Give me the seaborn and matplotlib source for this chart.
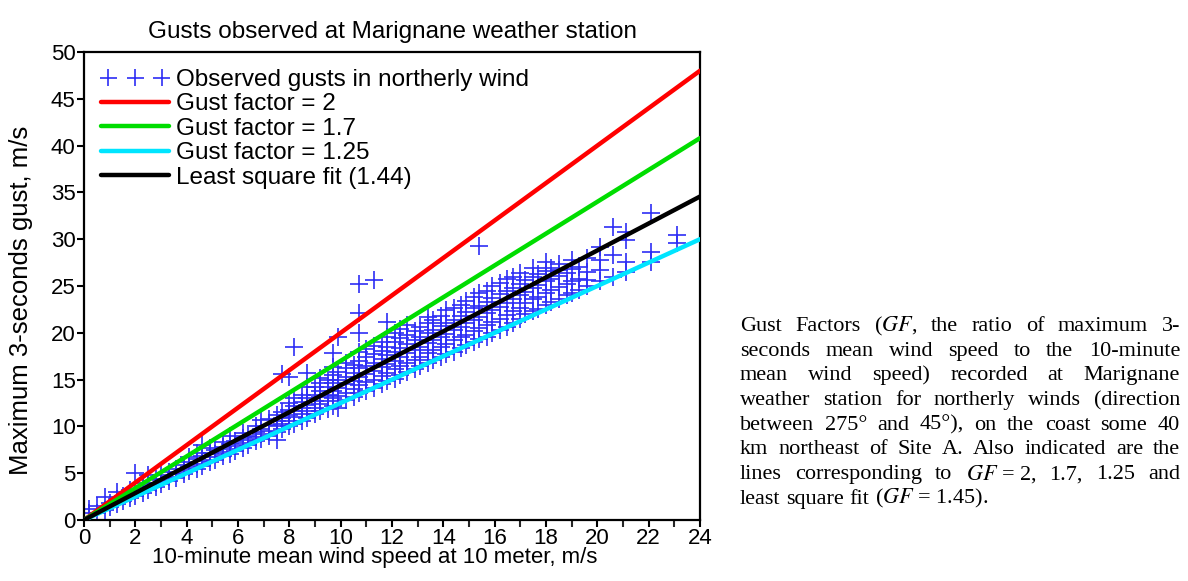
import matplotlib
matplotlib.use("Agg")
import matplotlib.pyplot as plt
import seaborn as sns
import numpy as np
from matplotlib.ticker import MultipleLocator

# ---------------- data ----------------
gust_cols = {
    0.2: [0.8, 1.2],
    0.5: [0.8, 1.5],
    0.8: [1.1, 2.5],
    1.0: [1.4, 1.8],
    1.3: [1.7, 2.2, 3.0],
    1.5: [2.0, 2.6],
    1.8: [2.3, 2.8, 3.2],
    2.0: [2.6, 3.1, 5.0],
    2.3: [2.9, 3.4, 3.9],
    2.5: [3.2, 3.7, 4.8],
    2.8: [3.5, 4.0, 4.4],
    3.0: [3.8, 4.3, 4.8],
    3.3: [4.2, 4.6, 5.1],
    3.6: [4.5, 5.0, 5.5],
    3.9: [4.9, 5.4, 5.9],
    4.1: [5.2, 5.7, 6.2, 6.7],
    4.4: [5.5, 6.0, 6.5, 7.2],
    4.6: [5.8, 6.3, 6.8, 8.0],
    4.9: [6.2, 6.7, 7.2, 7.7],
    5.1: [6.4, 7.0, 7.5],
    5.4: [6.8, 7.3, 7.8, 8.3],
    5.7: [7.1, 7.6, 8.1, 9.0],
    5.9: [7.4, 7.9, 8.4],
    6.2: [7.7, 8.2, 8.8, 9.3],
    6.4: [8.0, 8.5, 9.0],
    6.7: [8.4, 8.9, 9.4, 10.0],
    6.9: [8.7, 9.2, 9.7, 10.7],
    7.2: [9.0, 9.5, 10.2, 10.8],
    7.5: [8.5, 9.4, 10.0, 10.6, 11.2],
    7.7: [9.7, 10.3, 10.9, 11.5, 15.6],
    8.0: [10.0, 10.6, 11.2, 11.8, 12.5, 15.3],
    8.2: [10.3, 11.0, 11.6, 12.2, 13.0, 18.5],
    8.5: [10.6, 11.3, 12.0, 12.6, 13.4],
    8.7: [10.9, 11.6, 12.3, 13.0, 14.2, 15.7],
    9.0: [11.3, 12.0, 12.7, 13.4, 14.2],
    9.2: [11.6, 12.4, 13.1, 13.8, 14.6, 15.2],
    9.5: [11.9, 12.7, 13.4, 14.2, 15.0],
    9.7: [12.2, 13.0, 13.8, 14.6, 15.5, 16.3, 17.8],
    9.9: [12.0, 13.3, 14.1, 15.0, 15.8, 19.6],
    10.2: [12.8, 13.6, 14.5, 15.3, 16.2, 16.8],
    10.5: [13.1, 14.0, 14.9, 15.7, 16.6],
    10.7: [13.6, 14.4, 15.3, 16.2, 17.0, 18.0, 20.0, 22.1, 25.2],
    11.0: [13.8, 14.7, 15.6, 16.5, 17.4, 18.3],
    11.3: [14.1, 15.0, 15.9, 16.8, 17.7, 18.6, 25.6],
    11.6: [14.5, 15.4, 16.3, 17.2, 18.1, 19.0],
    11.8: [14.8, 15.7, 16.7, 17.6, 18.5, 19.5, 21.2],
    12.1: [15.1, 16.1, 17.0, 18.0, 19.0, 20.0],
    12.3: [15.5, 16.4, 17.4, 18.4, 19.4, 20.4],
    12.6: [15.8, 16.8, 17.8, 18.8, 19.8, 20.8],
    12.9: [16.1, 17.1, 18.2, 19.2, 20.2],
    13.1: [16.4, 17.4, 18.5, 19.6, 20.6],
    13.4: [16.8, 17.8, 18.9, 20.0, 21.0, 21.7],
    13.6: [17.1, 18.2, 19.2, 20.3, 21.4],
    13.9: [17.4, 18.5, 19.6, 20.7, 21.8],
    14.1: [17.7, 18.8, 19.9, 21.0, 22.4],
    14.4: [18.0, 19.2, 20.3, 21.4, 22.6],
    14.7: [18.4, 19.5, 20.6, 21.8, 23.0],
    14.9: [18.7, 19.8, 21.0, 22.2, 23.4],
    15.2: [19.0, 20.2, 21.4, 22.6, 23.8],
    15.4: [19.3, 20.5, 21.7, 22.9, 24.2, 29.3],
    15.7: [19.6, 20.8, 22.1, 23.3, 24.5],
    15.9: [20.0, 21.2, 22.4, 23.7, 25.0],
    16.2: [20.3, 21.5, 22.8, 24.1, 25.3],
    16.5: [20.6, 21.9, 23.2, 24.5, 25.7],
    16.7: [21.0, 22.3, 23.6, 24.8, 26.0],
    17.0: [21.5, 22.7, 24.0, 25.2, 26.4],
    17.2: [22.0, 23.2, 24.4, 25.6],
    17.5: [22.3, 23.6, 24.8, 26.0, 26.9],
    17.7: [22.5, 23.8, 25.1, 26.3],
    18.0: [23.0, 24.3, 25.5, 26.6, 27.6],
    18.2: [23.3, 24.6, 25.8, 26.9],
    18.5: [23.6, 24.9, 26.1, 26.7, 27.3],
    18.8: [24.0, 25.2, 26.4],
    19.0: [24.3, 25.5, 26.8, 27.8],
    19.3: [24.6, 25.8, 27.0],
    19.6: [25.0, 25.6, 26.5, 28.0],
    20.1: [25.5, 26.7, 27.8, 29.2],
    20.6: [26.0, 28.3, 31.3],
    21.1: [26.5, 27.6, 29.9, 30.8],
    22.1: [27.6, 28.6, 32.8],
    23.1: [29.6, 30.4],
}
gust_x = [x for x, ys in gust_cols.items() for _ in ys]
gust_y = [y for ys in gust_cols.values() for y in ys]

line_x = np.array([0.0, 24.0])
factors = [2.0, 1.7, 1.25, 1.44]
factor_labels = ["Gust factor = 2", "Gust factor = 1.7", "Gust factor = 1.25",
                 "Least square fit (1.44)"]
factor_colors = ["#ff0000", "#00dd00", "#00e5ff", "#000000"]
scatter_label = "Observed gusts in northerly wind"

title = "Gusts observed at Marignane weather station"
xlabel = "10-minute mean wind speed at 10 meter, m/s"
ylabel = "Maximum 3-seconds gust, m/s"

caption_lines = [
    ["Gust", "Factors", "($GF$,", "the", "ratio", "of", "maximum", "3-"],
    ["seconds", "mean", "wind", "speed", "to", "the", "10-minute"],
    ["mean", "wind", "speed)", "recorded", "at", "Marignane"],
    ["weather", "station", "for", "northerly", "winds", "(direction"],
    ["between", "275°", "and", "45°),", "on", "the", "coast", "some", "40"],
    ["km", "northeast", "of", "Site", "A.", "Also", "indicated", "are", "the"],
    ["lines", "corresponding", "to", "$GF$ = 2,", "1.7,", "1.25", "and"],
    ["least", "square", "fit", "($GF$ = 1.45)."],
]

# ---------------- style ----------------
sns.set_theme(style="ticks")
plt.rcParams["font.family"] = ["Liberation Sans", "DejaVu Sans"]
plt.rcParams["mathtext.fontset"] = "stix"
plt.rcParams["text.color"] = "black"
plt.rcParams["axes.labelcolor"] = "black"

W, H = 1188, 581
fig = plt.figure(figsize=(W / 100, H / 100), dpi=100)
ax = fig.add_axes([84 / W, 1 - 520 / H, (700 - 84) / W, (520 - 52) / H])

sns.scatterplot(x=gust_x, y=gust_y, marker="+", s=150, color="#2e2ef5",
                linewidth=1.2, ax=ax, label=scatter_label, zorder=2)
for f, lab, col in zip(factors, factor_labels, factor_colors):
    sns.lineplot(x=line_x, y=f * line_x, color=col, linewidth=3.2, ax=ax,
                 label=lab, zorder=3)

ax.set_xlim(0, 24)
ax.set_ylim(0, 50)
ax.xaxis.set_major_locator(MultipleLocator(2))
ax.xaxis.set_minor_locator(MultipleLocator(1))
ax.yaxis.set_major_locator(MultipleLocator(5))
ax.tick_params(axis="both", which="major", direction="out", length=5, width=1.5,
               labelsize=16, pad=1, color="black", labelcolor="black")
ax.tick_params(axis="x", which="minor", direction="out", length=5, width=1.5)
for sp in ax.spines.values():
    sp.set_visible(True)
    sp.set_linewidth(1.6)
    sp.set_color("black")

ax.set_title(title, fontsize=17.5, pad=10, color="black")
ax.set_xlabel(xlabel, fontsize=16, color="black")
ax.set_ylabel(ylabel, fontsize=18.5, color="black")
ax.xaxis.set_label_coords((375 - 84) / 616, -0.058)
ax.yaxis.set_label_coords(-(84 - 33) / 616, 0.47)

h, l = ax.get_legend_handles_labels()
leg = ax.legend(h, l, loc="upper left", bbox_to_anchor=(0.0, 1.0), frameon=False,
                fontsize=17.5, handlelength=2.8, handletextpad=0.3,
                labelspacing=0.1, borderaxespad=0.5, borderpad=0.2,
                scatterpoints=3, scatteryoffsets=[0.5])

# ---------------- caption (justified) ----------------
fig.canvas.draw()
r = fig.canvas.get_renderer()
cap_left, cap_right = 740, 1180
base0, step = 331, 24.7
cap_font = dict(family=["Liberation Serif", "DejaVu Serif"], fontsize=16, color="black")
space = fig.text(0, 0, "a b", **cap_font)
sw = space.get_window_extent(r).width
space.set_text("ab")
sw -= space.get_window_extent(r).width
space.remove()
for i, words in enumerate(caption_lines):
    yb = 1 - (base0 + i * step) / H
    texts = [fig.text(0, yb, w, va="baseline", ha="left", **cap_font) for w in words]
    widths = [t.get_window_extent(r).width for t in texts]
    last = i == len(caption_lines) - 1
    if last or len(words) == 1:
        gap = sw
    else:
        gap = (cap_right - cap_left - sum(widths)) / (len(words) - 1)
    x = cap_left
    for t, wdt in zip(texts, widths):
        t.set_x(x / W)
        x += wdt + gap

fig.savefig("out.png", dpi=100)
